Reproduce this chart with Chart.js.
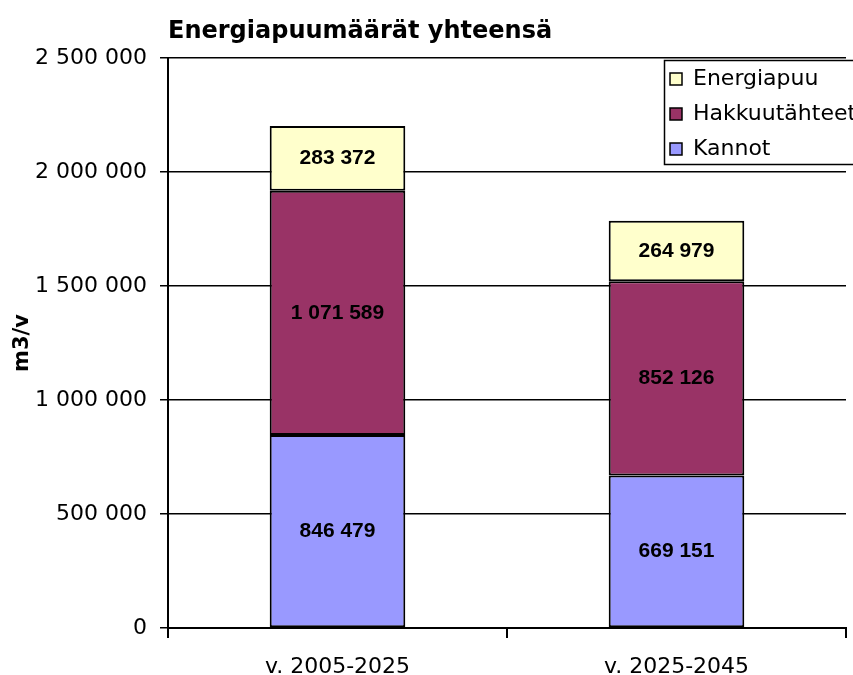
<!DOCTYPE html>
<html>
<head>
<meta charset="utf-8">
<script src="https://cdn.jsdelivr.net/npm/chart.js@4/dist/chart.umd.min.js"></script>
<style>
html,body{margin:0;padding:0;background:#fff;}
#wrap{width:853px;height:675px;position:relative;}
</style>
</head>
<body>
<div id="wrap"><canvas id="c" width="853" height="675"></canvas></div>
<script>
const categories = ['v. 2005-2025', 'v. 2025-2045'];
const kannot = [846479, 669151];
const hakkuutahteet = [1071589, 852126];
const energiapuu = [283372, 264979];
const seriesNames = ['Kannot', 'Hakkuutähteet', 'Energiapuu'];
const yTicks = [0, 500000, 1000000, 1500000, 2000000, 2500000];
const chartTitle = 'Energiapuumäärät yhteensä';
const yTitle = 'm3/v';

const fmt = n => String(n).replace(/\B(?=(\d{3})+(?!\d))/g, ' ');

const titlePlugin = {
  id: 'customTitle',
  afterDraw(chart) {
    const ctx = chart.ctx;
    ctx.save();
    ctx.font = 'bold 24px "DejaVu Sans"';
    ctx.fillStyle = '#000';
    ctx.textAlign = 'left';
    ctx.textBaseline = 'alphabetic';
    ctx.fillText(chartTitle, chart.chartArea.left, 38);
    ctx.restore();
  }
};

const valueLabels = {
  id: 'valueLabels',
  afterDatasetsDraw(chart) {
    const ctx = chart.ctx;
    ctx.save();
    ctx.font = 'bold 21px "Liberation Sans"';
    ctx.fillStyle = '#000';
    ctx.textAlign = 'center';
    ctx.textBaseline = 'middle';
    chart.data.datasets.forEach((ds, i) => {
      const meta = chart.getDatasetMeta(i);
      meta.data.forEach((bar, j) => {
        const y = (bar.y + bar.base) / 2;
        ctx.fillText(fmt(ds.data[j]), bar.x, y);
      });
    });
    ctx.restore();
  }
};

const legendBox = {
  id: 'legendBox',
  afterDraw(chart) {
    const ctx = chart.ctx;
    const x0 = 664, y0 = 60, y1 = 164;
    ctx.save();
    ctx.fillStyle = '#fff';
    ctx.fillRect(x0, y0, 900 - x0, y1 - y0);
    ctx.strokeStyle = '#000';
    ctx.lineWidth = 1.5;
    ctx.strokeRect(x0 + 0.5, y0 + 0.5, 900 - x0, y1 - y0);
    const ds = chart.data.datasets.slice().reverse();
    const ys = [79, 114, 149];
    ctx.font = '22px "DejaVu Sans"';
    ctx.textBaseline = 'middle';
    ctx.textAlign = 'left';
    ds.forEach((d, i) => {
      ctx.fillStyle = d.backgroundColor;
      ctx.fillRect(670, ys[i] - 6, 12, 12);
      ctx.lineWidth = 1.5;
      ctx.strokeStyle = '#000';
      ctx.strokeRect(670, ys[i] - 6, 12, 12);
      ctx.fillStyle = '#000';
      ctx.fillText(d.label, 693, ys[i]);
    });
    ctx.restore();
  }
};

new Chart(document.getElementById('c'), {
  type: 'bar',
  data: {
    labels: categories,
    datasets: [
      { label: seriesNames[0], data: kannot, backgroundColor: '#9999FF' },
      { label: seriesNames[1], data: hakkuutahteet, backgroundColor: '#993366' },
      { label: seriesNames[2], data: energiapuu, backgroundColor: '#FFFFCC' }
    ].map(d => Object.assign(d, { borderColor: '#000', borderWidth: 2, borderSkipped: false, barPercentage: 0.4, categoryPercentage: 1 }))
  },
  options: {
    responsive: false,
    animation: false,
    layout: { padding: { top: 58, right: 7, left: 0, bottom: 0 } },
    plugins: { legend: { display: false }, title: { display: false }, tooltip: { enabled: false } },
    scales: {
      x: {
        stacked: true,
        offset: true,
        grid: { offset: true, drawOnChartArea: false, color: '#000', lineWidth: 2, tickLength: 10, drawTicks: true },
        border: { color: '#000', width: 2 },
        ticks: { color: '#000', font: { family: 'DejaVu Sans', size: 22 }, padding: 16, maxRotation: 0 },
        afterFit(s) { s.height = 47; }
      },
      y: {
        stacked: true,
        min: 0,
        max: 2500000,
        afterBuildTicks(s) { s.ticks = yTicks.map(v => ({ value: v })); },
        grid: { color: '#000', lineWidth: 1.5, tickLength: 8, drawTicks: true },
        border: { color: '#000', width: 2 },
        ticks: { color: '#000', font: { family: 'DejaVu Sans', size: 22 }, padding: 13, callback: v => fmt(v) },
        title: { display: true, text: yTitle, color: '#000', font: { family: 'DejaVu Sans', size: 21, weight: 'bold' }, padding: { top: 10, bottom: 0 } },
        afterFit(s) { s.width = 168; }
      }
    }
  },
  plugins: [valueLabels, titlePlugin, legendBox]
});
</script>
</body>
</html>
